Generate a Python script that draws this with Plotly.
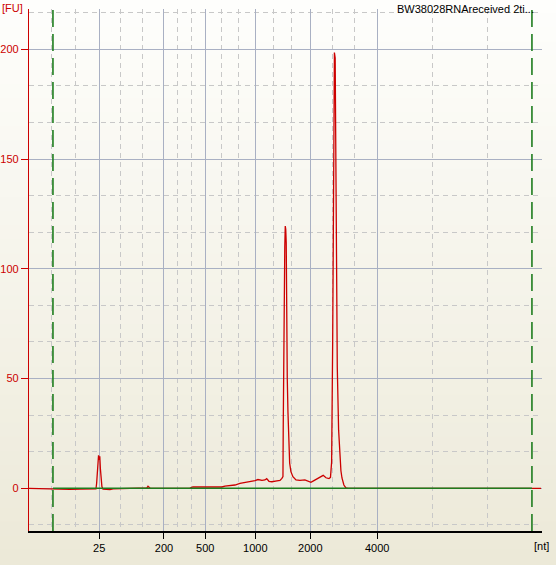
import plotly.graph_objects as go

# ---- data (migration time in seconds, fluorescence in FU) ----
time_s = [16.50, 19.00, 19.73, 20.77, 21.82, 22.86, 23.49, 23.56, 23.62, 23.68, 23.76,
          23.82, 23.89, 23.95, 24.03, 24.11, 24.22, 24.95, 25.26, 25.99, 28.08,
          28.81, 28.92, 29.02, 29.13, 30.17, 33.30, 33.61, 36.64, 36.95, 37.48,
          38.00, 38.52, 39.04, 39.56, 40.09, 40.40, 40.82, 41.13, 41.31, 41.55,
          41.86, 42.38, 42.70, 42.90, 43.01, 43.04, 43.11, 43.20, 43.25, 43.30,
          43.35, 43.39, 43.46, 43.53, 43.63, 43.71, 43.84, 44.05, 44.37, 44.78,
          45.30, 45.72, 45.93, 46.24, 46.66, 46.97, 47.21, 47.50, 47.81, 47.97,
          48.09, 48.20, 48.28, 48.33, 48.38, 48.46, 48.50, 48.56, 48.59, 48.68,
          48.82, 48.96, 49.06, 49.17, 49.37, 49.58, 49.79, 69.95]
fluor_fu = [0.0, -0.4, -0.3, -0.5, -0.4, -0.4, -0.3, 2.3, 8.0, 14.5, 15.0,
            13.0, 14.6, 9.0, 3.0, 0.8, -0.4, -0.6, -0.3, -0.2, -0.1,
            0.2, 0.9, 0.6, 0.1, 0.0, 0.1, 0.6, 0.6, 1.0, 1.2,
            1.5, 2.2, 2.6, 3.0, 3.5, 4.0, 3.6, 3.8, 4.4, 3.2,
            3.0, 3.4, 3.6, 4.5, 5.3, 29.0, 84.0, 110.0, 119.5, 118.0,
            112.0, 71.0, 50.0, 35.0, 18.0, 11.4, 7.6, 5.3, 3.8, 3.6,
            3.8, 3.3, 2.7, 3.5, 4.6, 5.5, 5.9, 4.8, 4.4, 5.0,
            12.0, 67.0, 150.0, 198.0, 198.5, 196.0, 157.0, 155.0, 100.0, 55.0,
            26.5, 13.0, 8.0, 4.7, 1.5, 0.2, 0.0, 0.0]

baseline_t = [19.0, 69.0]
baseline_fu = [0.0, 0.0]
window_t = [19.0, 69.0]

ladder_labels = ["25", "200", "500", "1000", "2000", "4000"]
ladder_time = [23.83, 30.59, 34.90, 40.12, 45.86, 52.85]
ladder_edge = [16.32, 70.15]  # unlabelled ladder positions outside the window

title_text = "BW38028RNAreceived 2ti..."
y_ticks = [0, 50, 100, 150, 200]

# ---- geometry ----
W, H = 556, 565
L, R, T, B = 29, 14, 9, 34
pw, ph = W - L - R, H - T - B

# minor x grid: thirds between consecutive ladder positions
lad = [ladder_edge[0]] + ladder_time + [ladder_edge[1]]
minor_x = []
for a, b in zip(lad[:-1], lad[1:]):
    minor_x += [a + (b - a) / 3, a + 2 * (b - a) / 3]

fig = go.Figure()

# gradient background
top_c = (254, 254, 252)
bot_c = (236, 233, 216)
n = 40
y0p, y1p = -B / ph, 1 + T / ph
for i in range(n):
    f = (i + 0.5) / n
    c = tuple(round(top_c[k] + (bot_c[k] - top_c[k]) * f) for k in range(3))
    ya = y1p - (y1p - y0p) * i / n
    yb = y1p - (y1p - y0p) * (i + 1) / n
    fig.add_shape(type="rect", xref="paper", yref="paper",
                  x0=-L / pw, x1=1 + R / pw, y0=yb, y1=ya + 0.002,
                  fillcolor="rgb(%d,%d,%d)" % c, line_width=0, layer="below")

fig.add_trace(go.Scatter(x=time_s, y=fluor_fu, mode="lines",
                         line=dict(color="#CC0000", width=1.3), hoverinfo="skip"))
fig.add_trace(go.Scatter(x=baseline_t, y=baseline_fu, mode="lines",
                         line=dict(color="#1E7D1E", width=1.6), hoverinfo="skip"))

for t in window_t:
    fig.add_shape(type="line", xref="x", yref="paper", x0=t, x1=t, y0=0, y1=1,
                  line=dict(color="#1E7D1E", width=1.6, dash="17px,7px"))

fig.update_layout(
    width=W, height=H,
    margin=dict(l=L, r=R, t=T, b=B, pad=0, autoexpand=False),
    paper_bgcolor="#ECE9D8", plot_bgcolor="rgba(0,0,0,0)",
    showlegend=False,
    font=dict(family="Liberation Sans, Arial, sans-serif", size=11, color="black"),
)
fig.update_xaxes(
    range=[16.50, 70.05], tickmode="array", tickvals=ladder_time, ticktext=ladder_labels,
    automargin=False,
    showgrid=True, gridcolor="#A9B0C3", gridwidth=1,
    minor=dict(tickmode="array", tickvals=minor_x, showgrid=True, gridcolor="#C8C8C8",
               griddash="5px,4px", gridwidth=1, ticks=""),
    showline=True, linecolor="black", linewidth=1.5, ticks="outside", ticklen=6,
    tickcolor="black", tickwidth=1, zeroline=False,
    tickfont=dict(size=11, color="black"),
)
fig.update_yaxes(
    range=[-19.45, 218.36], tickmode="array", tickvals=y_ticks,
    automargin=False,
    showgrid=True, gridcolor="#A9B0C3", gridwidth=1,
    minor=dict(tick0=0, dtick=50 / 3, showgrid=True, gridcolor="#C8C8C8",
               griddash="5px,4px", gridwidth=1, ticks=""),
    showline=True, linecolor="#CC0000", linewidth=1.2, ticks="outside", ticklen=7,
    tickcolor="#CC0000", tickwidth=1.2, zeroline=False,
    tickfont=dict(size=11, color="#CC0000"),
)

fig.add_annotation(text=title_text, xref="paper", yref="paper",
                   x=(536 - L) / pw, y=1 + (T - 1) / ph, xanchor="right", yanchor="top",
                   showarrow=False, font=dict(size=11, color="black"))
fig.add_annotation(text="[FU]", xref="paper", yref="paper",
                   x=-L / pw, y=1 + (T - 0) / ph, xanchor="left", yanchor="top",
                   showarrow=False, font=dict(size=11, color="#CC0000"))
fig.add_annotation(text="[nt]", xref="paper", yref="paper",
                   x=(541.5 - L) / pw, y=-(546 - (H - B)) / ph, xanchor="center",
                   yanchor="middle", showarrow=False, font=dict(size=11, color="black"))

fig.write_html("out.html", config={"displayModeBar": False},
               post_script="document.body.style.margin='0';document.body.style.padding='0';"
                           "document.body.style.overflow='hidden';")
